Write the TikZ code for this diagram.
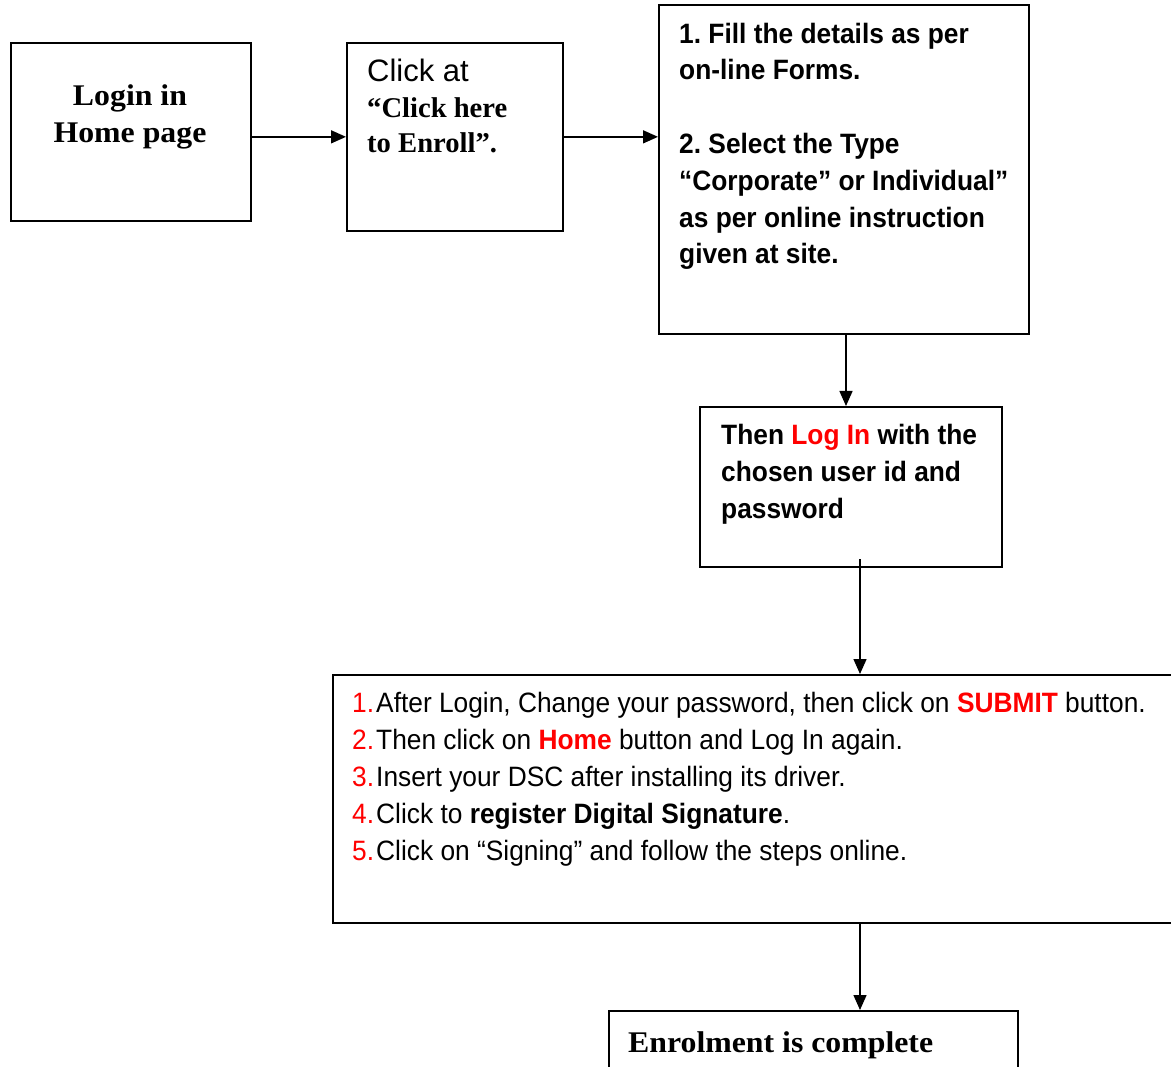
\documentclass[tikz,border=0pt]{standalone}
\usepackage{fontspec}
\setmainfont{Liberation Serif}
\newfontfamily\wserif[FakeStretch=1.06]{Liberation Serif}
\newfontfamily\nsans[FakeStretch=0.94]{Liberation Sans}
\newfontfamily\psans{Liberation Sans}
\usetikzlibrary{arrows.meta}
\definecolor{hot}{RGB}{255,0,0}
\newcommand{\num}[1]{\makebox[24pt][l]{\textcolor{hot}{#1}}}
\frenchspacing
\begin{document}
\frenchspacing
\begin{tikzpicture}[x=1pt,y=-1pt,
  box/.style={draw, line width=1.7pt, inner sep=0pt, anchor=north west},
  arr/.style={line width=1.5pt, -{Triangle[length=15pt,width=13pt]}},
  sertxt/.style={inner sep=0pt, font=\wserif\fontsize{30}{37}\selectfont\bfseries},
  santxt/.style={inner sep=0pt, align=left, font=\nsans\fontsize{28}{36.8}\selectfont\bfseries\frenchspacing},
  listtxt/.style={inner sep=0pt, align=left, font=\nsans\fontsize{28}{36.8}\selectfont\frenchspacing}
]
\useasboundingbox (0,0) rectangle (1171,1067);
% boxes
\node[box, minimum width=240pt, minimum height=178pt] (login) at (10,42) {};
\node[box, minimum width=216pt, minimum height=188pt] (click) at (346,42) {};
\node[box, minimum width=370pt, minimum height=329pt] (fill) at (658,4) {};
\node[box, minimum width=302pt, minimum height=160pt] (then) at (699,406) {};
\node[box, minimum width=860pt, minimum height=248pt] (big) at (332,674) {};
\node[box, minimum width=409pt, minimum height=80pt] (enrol) at (608,1010) {};
% texts (multi-line nodes: base anchor = last line)
\node[sertxt, anchor=base, align=center] (logintxt) at (130,143) {Login in\\Home page};
\node[inner sep=0pt, anchor=base west, font=\psans\fontsize{31}{36}\selectfont] (clicktxt) at (367,82) {Click at};
\node[sertxt, anchor=base west, align=left, font=\fontsize{28.6}{35}\selectfont\bfseries] (clicktxt2) at (367,153) {“Click here\\to Enroll”.};
\node[santxt, anchor=base west] (filltxt) at (679,264) {1. Fill the details as per\\on-line Forms.\\[36.8pt]2. Select the Type\\“Corporate” or Individual”\\as per online instruction\\given at site.};
\node[santxt, anchor=base west] (thentxt) at (721,518) {Then \textcolor{hot}{Log In} with the\\chosen user id and\\password};
\node[listtxt, anchor=base west] (listtxt) at (352,860) {\num{1.}After Login, Change your password, then click on \textbf{\textcolor{hot}{SUBMIT}} button.\\
\num{2.}Then click on \textbf{\textcolor{hot}{Home}} button and Log In again.\\
\num{3.}Insert your DSC after installing its driver.\\
\num{4.}Click to \textbf{register Digital Signature}.\\
\num{5.}Click on “Signing” and follow the steps online.};
\node[sertxt, anchor=base west] (enroltxt) at (628,1052) {Enrolment is complete};
% connectors
\coordinate (c1) at (846,0);
\coordinate (c2) at (860,559);
\draw[arr] (login.east |- click.east) -- (click.west);
\draw[arr] (click.east) -- (click.east -| fill.west);
\draw[arr] (fill.south -| c1) -- (then.north -| c1);
\draw[arr] (c2) -- (c2 |- big.north);
\draw[arr] (big.south -| c2) -- (enrol.north -| c2);
\end{tikzpicture}
\end{document}
